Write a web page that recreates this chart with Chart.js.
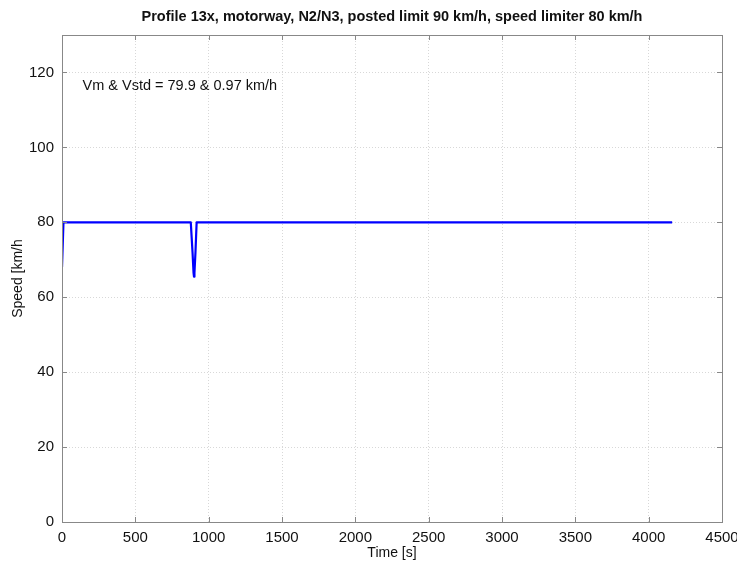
<!DOCTYPE html>
<html>
<head>
<meta charset="utf-8">
<script src="https://cdn.jsdelivr.net/npm/chart.js@4/dist/chart.umd.min.js"></script>
<style>
html,body{margin:0;padding:0;background:#fff;}
#wrap{width:737px;height:567px;position:relative;}
</style>
</head>
<body>
<div id="wrap"><canvas id="c" width="737" height="567"></canvas></div>
<script>
// Data
const timeS = [0, 10, 878, 890, 897, 900, 903, 910, 918, 4160];
const speedKmh = [68, 80, 80, 72, 66.5, 65.5, 66.5, 72, 80, 80];
const xTicks = [0, 500, 1000, 1500, 2000, 2500, 3000, 3500, 4000, 4500];
const yTicks = [0, 20, 40, 60, 80, 100, 120];
const titleText = 'Profile 13x, motorway, N2/N3, posted limit 90 km/h, speed limiter 80 km/h';
const annotText = 'Vm & Vstd = 79.9 & 0.97 km/h';
const annotPos = [140, 116.5];
const xLabel = 'Time [s]';
const yLabel = 'Speed [km/h';

const FONT = '"Liberation Sans", Arial, sans-serif';
const AXIS = '#888888';

const boxPlugin = {
  id: 'box',
  afterDraw(chart) {
    const {ctx, chartArea: a, scales: {x, y}} = chart;
    ctx.save();
    ctx.strokeStyle = AXIS;
    ctx.lineWidth = 1;
    ctx.strokeRect(a.left + 0.5, a.top + 0.5, a.right - a.left, a.bottom - a.top);
    const L = 5;
    ctx.beginPath();
    xTicks.forEach(v => {
      const px = Math.round(x.getPixelForValue(v)) + 0.5;
      ctx.moveTo(px, a.bottom); ctx.lineTo(px, a.bottom - L);
      ctx.moveTo(px, a.top); ctx.lineTo(px, a.top + L);
    });
    yTicks.forEach(v => {
      const py = Math.round(y.getPixelForValue(v)) + 0.5;
      ctx.moveTo(a.left, py); ctx.lineTo(a.left + L, py);
      ctx.moveTo(a.right, py); ctx.lineTo(a.right - L, py);
    });
    ctx.stroke();
    ctx.fillStyle = '#111';
    ctx.textBaseline = 'middle';
    ctx.font = '14.5px ' + FONT;
    ctx.textAlign = 'left';
    ctx.fillText(annotText, x.getPixelForValue(annotPos[0]), y.getPixelForValue(annotPos[1]));
    ctx.font = 'bold 14.5px ' + FONT;
    ctx.textAlign = 'center';
    ctx.fillText(titleText, (a.left + a.right) / 2, 17);
    ctx.restore();
  }
};

new Chart(document.getElementById('c'), {
  type: 'line',
  data: {
    datasets: [{
      data: timeS.map((t, i) => ({x: t, y: speedKmh[i]})),
      borderColor: '#0000ff',
      borderWidth: 2.2,
      borderJoinStyle: 'round',
      pointRadius: 0,
      tension: 0,
      fill: false
    }]
  },
  options: {
    responsive: false,
    animation: false,
    devicePixelRatio: 1,
    layout: {padding: {left: 10, right: 0, top: 35, bottom: 0}},
    plugins: {
      legend: {display: false},
      tooltip: {enabled: false},
      title: {display: false}
    },
    scales: {
      x: {
        type: 'linear',
        min: 0, max: 4500,
        afterBuildTicks: s => { s.ticks = xTicks.map(v => ({value: v})); },
        afterFit: s => { s.height = 45; s.paddingRight = 15; s.paddingLeft = 0; },
        ticks: {color: '#111', font: {family: FONT, size: 15}, padding: 7, maxRotation: 0, callback: v => String(v)},
        grid: {color: '#d8d8d8', drawTicks: false},
        border: {color: AXIS, dash: [1, 2], display: true},
        title: {display: true, text: xLabel, color: '#111', font: {family: FONT, size: 14}, padding: {top: 0, bottom: 5}}
      },
      y: {
        type: 'linear',
        min: 0, max: 130,
        afterBuildTicks: s => { s.ticks = yTicks.map(v => ({value: v})); },
        afterFit: s => { s.width = 52; s.paddingTop = 0; s.paddingBottom = 0; },
        ticks: {color: '#111', font: {family: FONT, size: 15}, padding: 8, callback: v => String(v)},
        grid: {color: '#d8d8d8', drawTicks: false},
        border: {color: AXIS, dash: [1, 2], display: true},
        title: {display: true, text: yLabel, color: '#111', font: {family: FONT, size: 14}, padding: {top: 0, bottom: 2}}
      }
    }
  },
  plugins: [boxPlugin]
});
</script>
</body>
</html>
